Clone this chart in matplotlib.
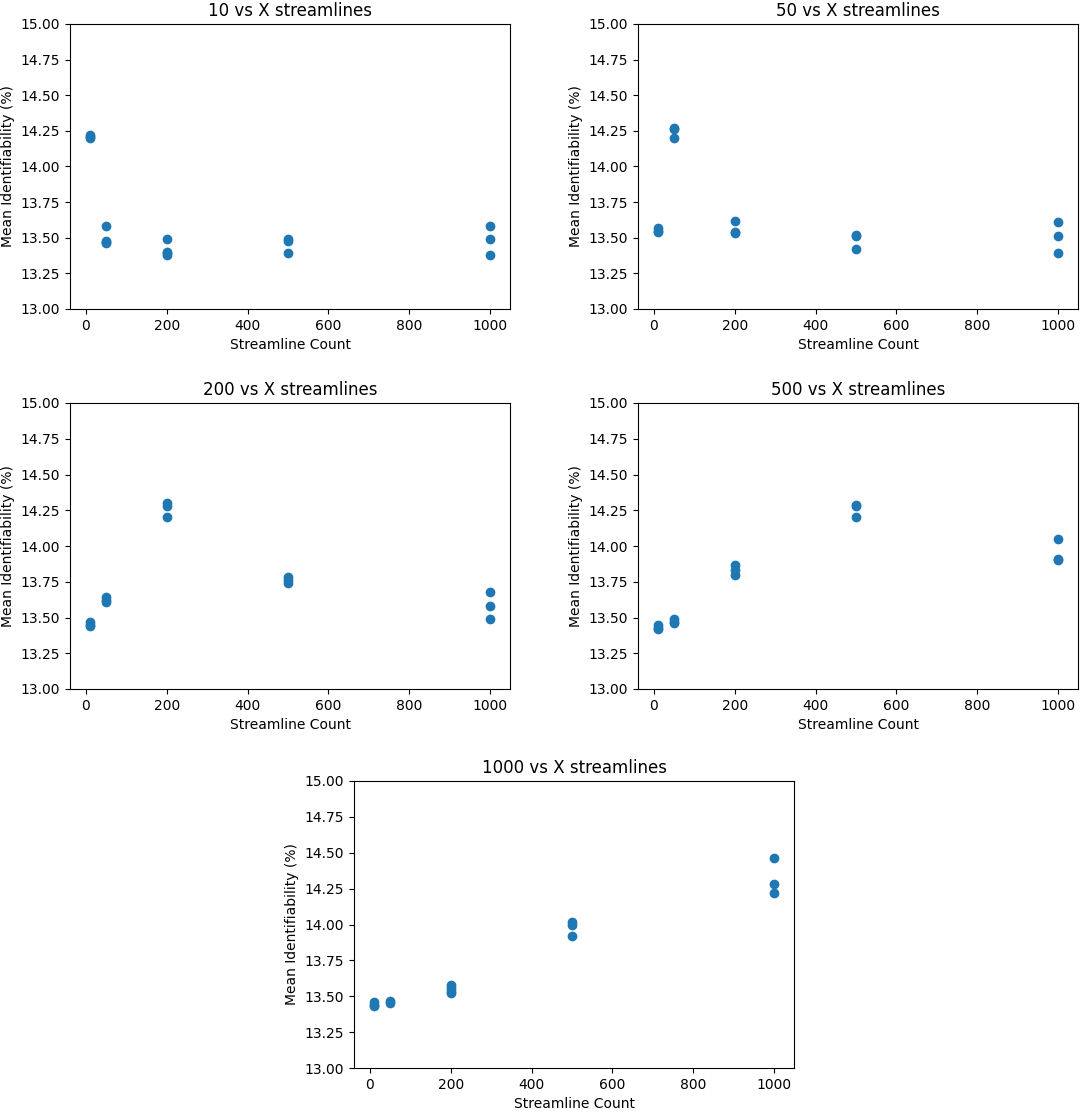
import matplotlib
matplotlib.use("Agg")
import matplotlib.pyplot as plt

# x categories (streamline counts)
counts = [10, 50, 200, 500, 1000]

# values per panel: list of repeated measurements for each count
p10 = {
    10: [14.22, 14.21, 14.20],
    50: [13.58, 13.48, 13.47, 13.46],
    200: [13.49, 13.40, 13.39, 13.38],
    500: [13.49, 13.48, 13.39],
    1000: [13.58, 13.49, 13.38],
}
p50 = {
    10: [13.57, 13.55, 13.54],
    50: [14.27, 14.26, 14.20],
    200: [13.62, 13.54, 13.53],
    500: [13.52, 13.51, 13.42],
    1000: [13.61, 13.51, 13.39],
}
p200 = {
    10: [13.47, 13.45, 13.44],
    50: [13.64, 13.62, 13.61],
    200: [14.30, 14.28, 14.20],
    500: [13.78, 13.76, 13.74],
    1000: [13.68, 13.58, 13.49],
}
p500 = {
    10: [13.45, 13.43, 13.42],
    50: [13.49, 13.47, 13.46],
    200: [13.87, 13.83, 13.80],
    500: [14.29, 14.28, 14.20],
    1000: [14.05, 13.91, 13.90],
}
p1000 = {
    10: [13.46, 13.44, 13.43],
    50: [13.47, 13.45],
    200: [13.58, 13.56, 13.54, 13.52],
    500: [14.015, 14.00, 13.92],
    1000: [14.46, 14.285, 14.22],
}
titles = ["10 vs X streamlines", "50 vs X streamlines", "200 vs X streamlines",
          "500 vs X streamlines", "1000 vs X streamlines"]
panels = [p10, p50, p200, p500, p1000]

W, H = 1084, 1112
fig = plt.figure(figsize=(W / 100, H / 100), dpi=100)

# axes boxes in pixels: (left, top, right, bottom)
boxes = [
    (70, 24, 510, 309),
    (638, 24, 1078, 309),
    (70, 403, 510, 689),
    (638, 403, 1078, 689),
    (354, 781, 794, 1068),
]

for box, title, data in zip(boxes, titles, panels):
    l, t, r, b = box
    ax = fig.add_axes([l / W, 1 - b / H, (r - l) / W, (b - t) / H])
    xs, ys = [], []
    for c in counts:
        for v in data[c]:
            xs.append(c)
            ys.append(v)
    ax.scatter(xs, ys, color="#1f77b4")
    ax.set_ylim(13.0, 15.0)
    ax.set_title(title, fontsize=12)
    ax.set_xlabel("Streamline Count")
    ax.set_ylabel("Mean Identifiability (%)")

fig.savefig("out.png", dpi=100)
